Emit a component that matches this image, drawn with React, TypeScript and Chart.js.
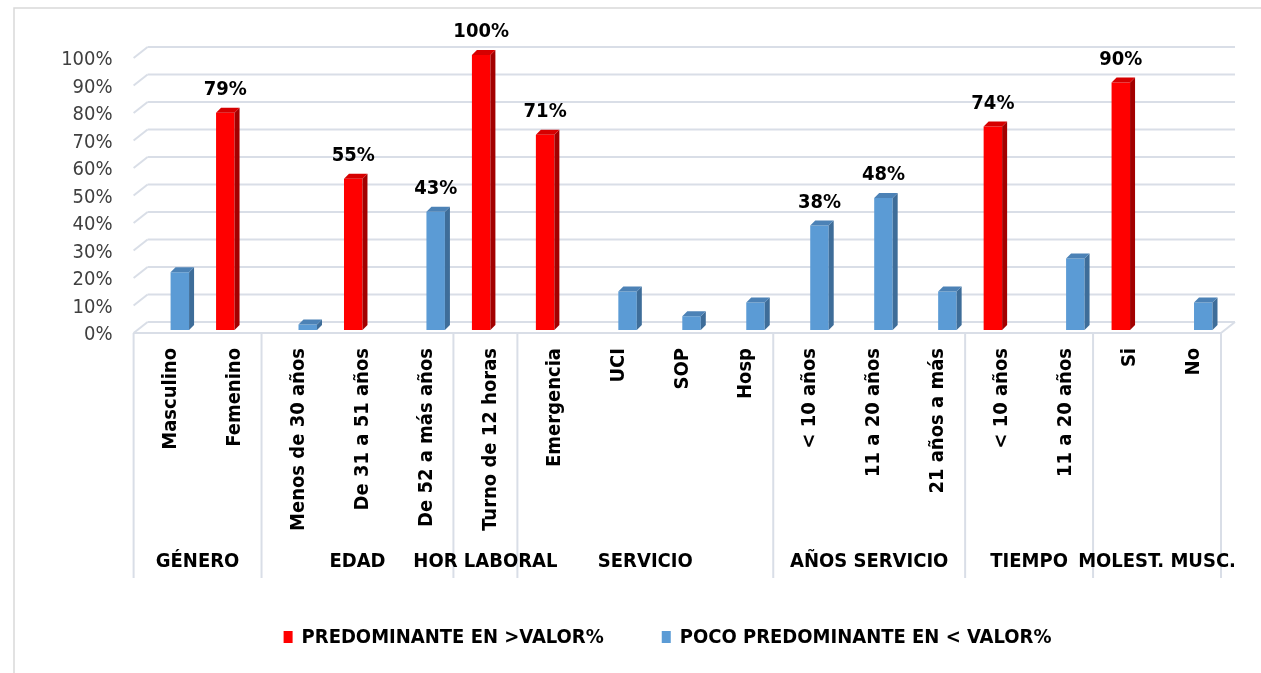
import React, { useEffect, useRef } from "react";
import { Chart, registerables } from "chart.js";

Chart.register(...registerables);

const categories = [
  "Masculino",
  "Femenino",
  "Menos de 30 años",
  "De 31 a 51 años",
  "De 52 a más años",
  "Turno de 12 horas",
  "Emergencia",
  "UCI",
  "SOP",
  "Hosp",
  "< 10 años",
  "11 a 20 años",
  "21 años a más",
  "< 10 años",
  "11 a 20 años",
  "Si",
  "No",
];

const predominante = [0, 79, 0, 55, 0, 100, 71, 0, 0, 0, 0, 0, 0, 74, 0, 90, 0];
const pocoPredominante = [21, 0, 2, 0, 43, 0, 0, 14, 5, 10, 38, 48, 14, 0, 26, 0, 10];

const groupNames = ["GÉNERO", "EDAD", "HOR LABORAL", "SERVICIO", "AÑOS SERVICIO", "TIEMPO", "MOLEST. MUSC."];
const groupSizes = [2, 3, 1, 4, 3, 2, 2];

const yTickValues = [0, 10, 20, 30, 40, 50, 60, 70, 80, 90, 100];
const seriesNames = ["PREDOMINANTE EN >VALOR%", "POCO PREDOMINANTE EN < VALOR%"];

const RED = "#FF0000";
const RED_SIDE = "#A30000";
const RED_TOP = "#D60000";
const BLUE = "#5B9BD5";
const BLUE_SIDE = "#3E6D99";
const BLUE_TOP = "#4C82B6";
const GRID = "#D9DEE7";
const FONT = "'DejaVu Sans Condensed', 'DejaVu Sans', sans-serif";
const FS = 20;
const DEPTH = 5;

const sideColors = [RED_SIDE, BLUE_SIDE];
const topColors = [RED_TOP, BLUE_TOP];

function line(ctx: CanvasRenderingContext2D, x1: number, y1: number, x2: number, y2: number) {
  ctx.beginPath();
  ctx.moveTo(x1, y1);
  ctx.lineTo(x2, y2);
  ctx.stroke();
}

const backgroundPlugin = {
  id: "bg3d",
  beforeDatasetsDraw(chart: any) {
    const { ctx, chartArea: a, scales } = chart;
    const xs = scales.x;
    const ys = scales.y;
    const L = a.left;
    const R = a.right;
    const n = categories.length;
    const w = (R - L) / n;
    const y0 = ys.getPixelForValue(0);
    ctx.save();
    // outer frame
    ctx.strokeStyle = "#D9D9D9";
    ctx.lineWidth = 1.5;
    ctx.strokeRect(14, 8, 1400, 900);
    // gridlines on back wall
    ctx.strokeStyle = GRID;
    ctx.lineWidth = 2;
    for (const v of yTickValues) {
      const py = ys.getPixelForValue(v);
      line(ctx, L + 9, py - 8, R + 9, py - 8);
      line(ctx, L - 5, py + 3, L + 9, py - 8);
    }
    // floor front edge
    line(ctx, L - 5, y0 + 3, R - 5, y0 + 3);
    line(ctx, R - 5, y0 + 3, R + 9, y0 - 8);
    // dividers + group labels
    const bounds: number[] = [0];
    let acc = 0;
    for (const s of groupSizes) {
      acc += s;
      bounds.push(acc);
    }
    const bx = (b: number) => (b < n ? xs.getPixelForValue(b) - w / 2 : xs.getPixelForValue(n - 1) + w / 2) - 5;
    for (const b of bounds) {
      const px = bx(b);
      line(ctx, px, y0 + 3, px, y0 + 248);
    }
    ctx.fillStyle = "#000";
    ctx.font = `bold ${FS}px ${FONT}`;
    ctx.textAlign = "center";
    ctx.textBaseline = "middle";
    for (let g = 0; g < groupNames.length; g++) {
      const cx = (bx(bounds[g]) + bx(bounds[g + 1])) / 2;
      ctx.fillText(groupNames[g], cx, y0 + 232);
    }
    ctx.restore();
  },
  afterDatasetsDraw(chart: any) {
    const { ctx } = chart;
    ctx.save();
    chart.data.datasets.forEach((ds: any, di: number) => {
      const meta = chart.getDatasetMeta(di);
      meta.data.forEach((bar: any, i: number) => {
        const v = ds.data[i];
        if (!v) return;
        const { x, y, base, width } = bar.getProps(["x", "y", "base", "width"], true);
        const l = x - width / 2;
        const r = x + width / 2;
        // side
        ctx.fillStyle = sideColors[di];
        ctx.beginPath();
        ctx.moveTo(r, y);
        ctx.lineTo(r + DEPTH, y - DEPTH);
        ctx.lineTo(r + DEPTH, base - DEPTH);
        ctx.lineTo(r, base);
        ctx.closePath();
        ctx.fill();
        // top
        ctx.fillStyle = topColors[di];
        ctx.beginPath();
        ctx.moveTo(l, y);
        ctx.lineTo(l + DEPTH, y - DEPTH);
        ctx.lineTo(r + DEPTH, y - DEPTH);
        ctx.lineTo(r, y);
        ctx.closePath();
        ctx.fill();
        // value label
        if (di === 0 || v >= 30) {
          ctx.fillStyle = "#000";
          ctx.font = `bold ${FS}px ${FONT}`;
          ctx.textAlign = "center";
          ctx.textBaseline = "alphabetic";
          ctx.fillText(`${v}%`, x, y - 18);
        }
      });
    });
    ctx.restore();
  },
};

const legendPlugin = {
  id: "customLegend",
  afterDraw(chart: any) {
    const { ctx } = chart;
    ctx.save();
    ctx.font = `bold ${FS}px ${FONT}`;
    ctx.textBaseline = "middle";
    ctx.textAlign = "left";
    const colors = [RED, BLUE];
    const boxW = 9;
    const boxH = 12;
    const gapBox = 9;
    const gapItem = 58;
    const widths = seriesNames.map((s) => ctx.measureText(s).width);
    const total = widths.reduce((a, b) => a + b + boxW + gapBox, 0) + gapItem;
    let x = 667.5 - total / 2;
    const cy = chart.height - 36;
    seriesNames.forEach((s, i) => {
      ctx.fillStyle = colors[i];
      ctx.fillRect(x, cy - boxH / 2, boxW, boxH);
      x += boxW + gapBox;
      ctx.fillStyle = "#000";
      ctx.fillText(s, x, cy + 1);
      x += widths[i] + gapItem;
    });
    ctx.restore();
  },
};

export default function App() {
  const canvasRef = useRef<HTMLCanvasElement | null>(null);

  useEffect(() => {
    document.body.style.margin = "0";
    document.body.style.overflow = "hidden";
    const canvas = canvasRef.current;
    if (!canvas) return;
    const chart = new Chart(canvas, {
      type: "bar",
      data: {
        labels: categories,
        datasets: [
          {
            label: seriesNames[0],
            data: predominante,
            backgroundColor: RED,
            borderWidth: 0,
            categoryPercentage: 0.578,
            barPercentage: 1,
          },
          {
            label: seriesNames[1],
            data: pocoPredominante,
            backgroundColor: BLUE,
            borderWidth: 0,
            categoryPercentage: 0.578,
            barPercentage: 1,
          },
        ],
      },
      options: {
        responsive: false,
        animation: false,
        layout: { padding: { top: 55, right: 35, left: 0, bottom: 0 } },
        plugins: {
          legend: { display: false },
          tooltip: { enabled: false },
        },
        scales: {
          x: {
            grid: { display: false, drawTicks: false },
            border: { display: false },
            ticks: {
              autoSkip: false,
              maxRotation: 90,
              minRotation: 90,
              padding: 18,
              color: "#000",
              font: { family: FONT, size: FS, weight: "bold" },
            },
            afterFit: (scale: any) => {
              scale.height = 343;
            },
          },
          y: {
            min: 0,
            max: 100,
            grid: { display: false, drawTicks: false },
            border: { display: false },
            ticks: {
              stepSize: 10,
              padding: 26,
              labelOffset: 5,
              color: "#404040",
              font: { family: FONT, size: FS },
              callback: (v: any) => `${v}%`,
            },
            afterFit: (scale: any) => {
              scale.width = 138.6;
            },
          },
        },
      },
      plugins: [backgroundPlugin, legendPlugin],
    });
    return () => chart.destroy();
  }, []);

  return (
    <div style={{ width: 1261, height: 673 }}>
      <canvas ref={canvasRef} width={1261} height={673} />
    </div>
  );
}
